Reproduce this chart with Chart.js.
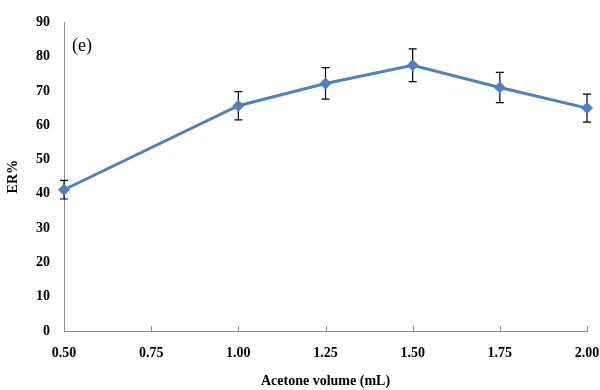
<!DOCTYPE html>
<html>
  <head>
    <meta charset="utf-8"/>
    <script type="text/javascript" src="https://cdn.jsdelivr.net/npm/chart.js@4.4.0/dist/chart.umd.min.js"></script>
    <style>
      html, body { margin: 0; padding: 0; background: #fff; }
      #holder { width: 600px; height: 390px; position: relative; }
    </style>
  </head>
  <body>
    <div id="holder"><canvas id="chart-area"></canvas></div>

    <script type="text/javascript">
      // data
      var volumes = [0.50, 1.00, 1.25, 1.50, 1.75, 2.00];
      var erValues = [41.2, 65.7, 72.2, 77.5, 71.0, 65.0];
      var erErrors = [2.7, 4.1, 4.6, 4.8, 4.4, 4.1];
      var xTicks = [0.50, 0.75, 1.00, 1.25, 1.50, 1.75, 2.00];

      var serif = "'Liberation Serif', 'Times New Roman', serif";
      var axisGrey = '#8c8c8c';

      var points = [];
      for (var i = 0; i < volumes.length; i++) {
        points.push({x: volumes[i], y: erValues[i]});
      }

      // error bars + inner x tick marks + panel label, drawn under the line
      var extras = {
        id: 'extras',
        beforeDatasetsDraw: function(chart) {
          var ctx = chart.ctx;
          var xs = chart.scales.x, ys = chart.scales.y, area = chart.chartArea;
          ctx.save();
          ctx.strokeStyle = axisGrey;
          ctx.lineWidth = 1;
          xs.ticks.forEach(function(t) {
            var px = Math.round(xs.getPixelForValue(t.value)) + 0.5;
            ctx.beginPath();
            ctx.moveTo(px, area.bottom);
            ctx.lineTo(px, area.bottom - 5);
            ctx.stroke();
          });

          ctx.strokeStyle = '#000';
          ctx.lineWidth = 1.2;
          for (var i = 0; i < volumes.length; i++) {
            var px = xs.getPixelForValue(volumes[i]);
            var top = ys.getPixelForValue(erValues[i] + erErrors[i]);
            var bot = ys.getPixelForValue(erValues[i] - erErrors[i]);
            ctx.beginPath();
            ctx.moveTo(px, top); ctx.lineTo(px, bot);
            ctx.moveTo(px - 4, top); ctx.lineTo(px + 4, top);
            ctx.moveTo(px - 4, bot); ctx.lineTo(px + 4, bot);
            ctx.stroke();
          }

          ctx.fillStyle = '#000';
          ctx.font = '18px ' + serif;
          ctx.textBaseline = 'middle';
          ctx.fillText('(e)', area.left + 8, area.top + 24);
          ctx.restore();
        }
      };

      var ctx = document.getElementById('chart-area').getContext('2d');
      var chart = new Chart(ctx, {
        type: 'line',
        data: {
          datasets: [{
            label: 'ER%',
            data: points,
            borderColor: '#4f81bd',
            backgroundColor: '#4f81bd',
            borderWidth: 3,
            pointStyle: 'rectRot',
            pointRadius: 6,
            pointBorderWidth: 0,
            tension: 0,
            clip: false
          }]
        },
        options: {
          responsive: true,
          maintainAspectRatio: false,
          animation: false,
          layout: { padding: { top: 15, right: 13, left: 5, bottom: 0 } },
          plugins: {
            legend: { display: false },
            tooltip: { enabled: false }
          },
          scales: {
            x: {
              type: 'linear',
              min: 0.5,
              max: 2.0,
              afterBuildTicks: function(s) {
                s.ticks = xTicks.map(function(v) { return {value: v}; });
              },
              afterFit: function(s) {
                s.height = 59;
                s.paddingRight = 0;
                s.paddingLeft = 0;
              },
              grid: { display: false, drawTicks: false },
              border: { display: true, color: axisGrey, width: 1 },
              ticks: {
                padding: 14,
                color: '#000',
                font: { family: serif, size: 14, weight: 'bold' },
                maxRotation: 0,
                callback: function(v) { return Number(v).toFixed(2); }
              },
              title: {
                display: true,
                text: 'Acetone volume (mL)',
                color: '#000',
                font: { family: serif, size: 14, weight: 'bold' },
                padding: { top: 12, bottom: 0 }
              }
            },
            y: {
              min: 0,
              max: 90,
              afterFit: function(s) { s.width = 59; },
              grid: { display: false, drawTicks: false },
              border: { display: true, color: axisGrey, width: 1 },
              ticks: {
                stepSize: 10,
                padding: 14,
                color: '#000',
                font: { family: serif, size: 14, weight: 'bold' }
              },
              title: {
                display: true,
                text: 'ER%',
                color: '#000',
                font: { family: serif, size: 14, weight: 'bold' },
                padding: { top: 0, bottom: 0 }
              }
            }
          }
        },
        plugins: [extras]
      });
    </script>
  </body>
</html>
